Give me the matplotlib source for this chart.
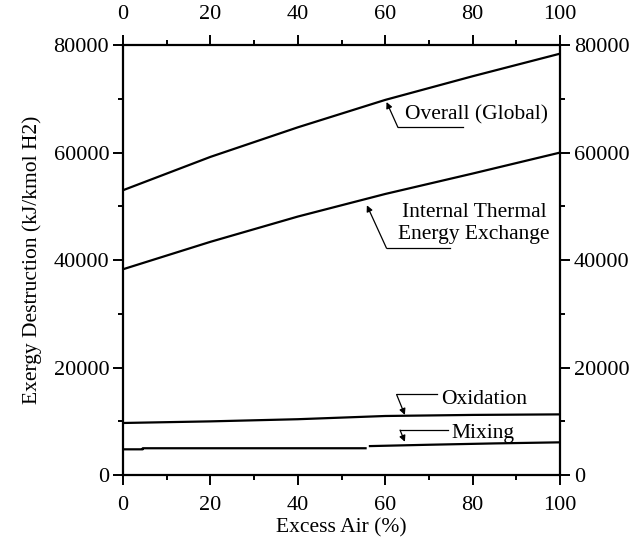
import numpy as np
import matplotlib
matplotlib.use("Agg")
import matplotlib.pyplot as plt
from matplotlib.ticker import MultipleLocator

plt.rcParams["font.family"] = ["Liberation Serif", "DejaVu Serif"]

# excess air (%) and exergy destruction (kJ/kmol H2)
excess_air = [0, 20, 40, 60, 80, 100]
overall = [53000, 59200, 64700, 69800, 74200, 78400]
internal = [38300, 43400, 48100, 52300, 56100, 60000]
oxidation = [9700, 10000, 10400, 11000, 11200, 11300]

# mixing curve is drawn in two pieces in the original (small jump near 56 %)
mixing_x = [0, 4.5, 4.5, 55.5, np.nan, 56.5, 70, 85, 100]
mixing_y = [4800, 4800, 5000, 5000, np.nan, 5400, 5650, 5900, 6100]

fig = plt.figure(figsize=(6.31, 5.43), dpi=100)
ax = fig.add_axes([0.195, 0.125, 0.6925, 0.792])

lw = 1.6
ax.plot(excess_air, overall, color="black", lw=lw)
ax.plot(excess_air, internal, color="black", lw=lw)
ax.plot(excess_air, oxidation, color="black", lw=lw)
ax.plot(mixing_x, mixing_y, color="black", lw=lw)

ax.set_xlim(0, 100)
ax.set_ylim(0, 80000)
ax.xaxis.set_major_locator(MultipleLocator(20))
ax.xaxis.set_minor_locator(MultipleLocator(10))
ax.yaxis.set_major_locator(MultipleLocator(20000))
ax.yaxis.set_minor_locator(MultipleLocator(10000))

ax.tick_params(which="both", top=True, right=True, labeltop=True,
               labelright=True, direction="out", width=1.4, labelsize=16)
ax.tick_params(which="major", length=7)
ax.tick_params(axis="x", which="major", pad=8)
ax.tick_params(axis="y", which="major", pad=3)
ax.tick_params(which="minor", length=3.5)
for s in ax.spines.values():
    s.set_linewidth(1.6)

ax.set_xlabel("Excess Air (%)", fontsize=15.5, labelpad=2)
ax.set_ylabel("Exergy Destruction (kJ/kmol H2)", fontsize=15.5, labelpad=8)

# leader lines with arrows and labels
def leader(head, corner, end):
    ax.plot([corner[0], end], [corner[1], corner[1]], color="black", lw=0.9)
    ax.annotate("", xy=head, xytext=corner,
                arrowprops=dict(arrowstyle="-|>", color="black", lw=0.9,
                                mutation_scale=9, shrinkA=0, shrinkB=0))

leader((60.3, 69400), (62.9, 64700), 77.8)
ax.text(64.5, 67000, "Overall (Global)", fontsize=15.5, va="center", ha="left")

leader((55.8, 50200), (60.3, 42200), 74.8)
ax.text(80.3, 46800, "Internal Thermal\nEnergy Exchange", fontsize=15.5,
        va="center", ha="center", linespacing=1.18)

leader((64.5, 11200), (62.6, 15000), 71.8)
ax.text(72.7, 14100, "Oxidation", fontsize=15.5, va="center", ha="left")

leader((64.5, 6200), (63.4, 8370), 74.4)
ax.text(75.2, 7800, "Mixing", fontsize=15.5, va="center", ha="left")

fig.savefig("out.png", dpi=100)
